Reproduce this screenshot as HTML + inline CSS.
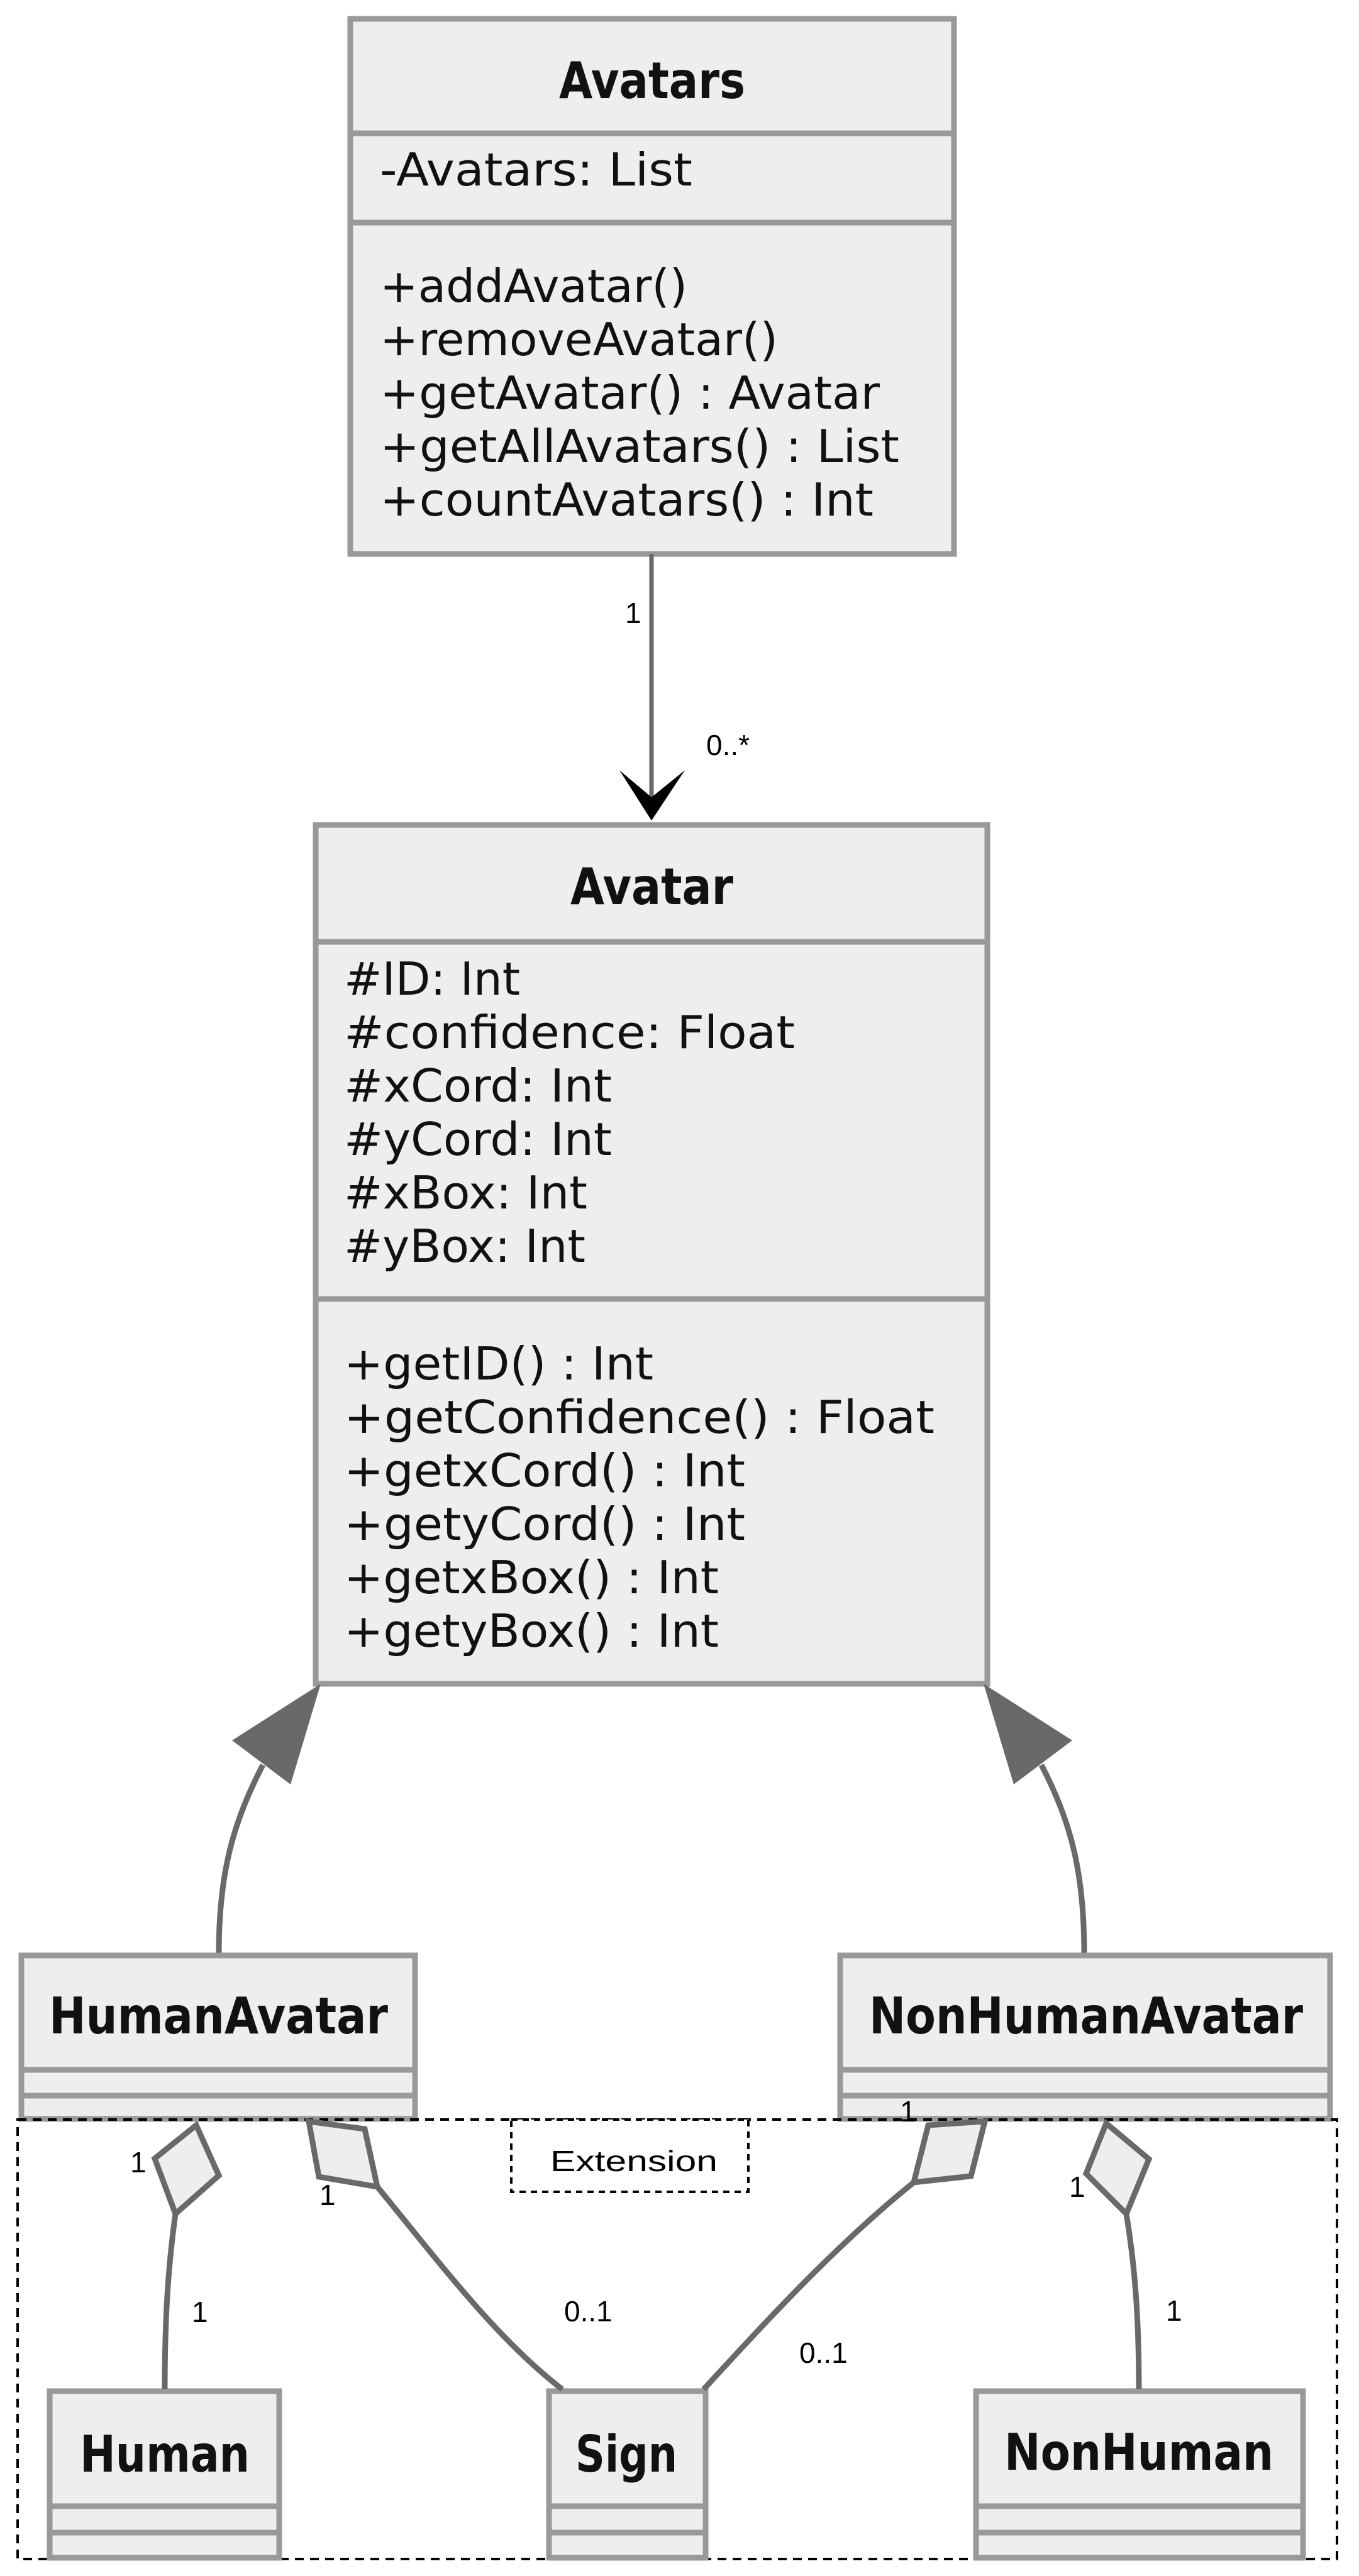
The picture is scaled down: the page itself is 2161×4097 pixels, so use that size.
<!DOCTYPE html>
<html><head><meta charset="utf-8"><style>
html,body{margin:0;padding:0;background:#fff;}
svg{display:block;}
text{font-family:"DejaVu Sans","Liberation Sans",sans-serif;fill:#111;}
.t{font-weight:bold;font-size:80px;}
.b{font-size:72px;}
.l{font-family:"Liberation Sans",sans-serif;font-size:46px;fill:#000;}
.box{fill:#eeeeee;stroke:#999;stroke-width:9;}
.dv{stroke:#999;stroke-width:9;}
.c{fill:none;stroke:#696969;stroke-width:9;}
.d{fill:#eeeeee;stroke:#696969;stroke-width:9;stroke-linejoin:miter;}
</style></head><body>
<svg width="2161" height="4097" viewBox="0 0 2161 4097" xmlns="http://www.w3.org/2000/svg">
<!-- Avatars -->
<rect class="box" x="557" y="30" width="960" height="851"/>
<line class="dv" x1="557" y1="212" x2="1517" y2="212"/>
<line class="dv" x1="557" y1="354" x2="1517" y2="354"/>
<text class="t" x="889" y="156" textLength="296" lengthAdjust="spacingAndGlyphs">Avatars</text>
<text class="b" x="604" y="295" textLength="497" lengthAdjust="spacingAndGlyphs">-Avatars: List</text>
<text class="b" x="604" y="480" textLength="489" lengthAdjust="spacingAndGlyphs">+addAvatar()</text>
<text class="b" x="604" y="565" textLength="633" lengthAdjust="spacingAndGlyphs">+removeAvatar()</text>
<text class="b" x="604" y="650" textLength="795" lengthAdjust="spacingAndGlyphs">+getAvatar() : Avatar</text>
<text class="b" x="604" y="735" textLength="826" lengthAdjust="spacingAndGlyphs">+getAllAvatars() : List</text>
<text class="b" x="604" y="820" textLength="785" lengthAdjust="spacingAndGlyphs">+countAvatars() : Int</text>

<!-- association arrow -->
<line x1="1036" y1="881" x2="1036" y2="1290" stroke="#696969" stroke-width="7"/>
<polygon points="985,1225 1036,1305 1089,1225 1036,1268" fill="#000"/>
<text class="l" x="994" y="991">1</text>
<text class="l" x="1123" y="1201">0..*</text>

<!-- Avatar -->
<rect class="box" x="502" y="1312" width="1068" height="1366"/>
<line class="dv" x1="502" y1="1498" x2="1570" y2="1498"/>
<line class="dv" x1="502" y1="2066" x2="1570" y2="2066"/>
<text class="t" x="907" y="1438" textLength="259" lengthAdjust="spacingAndGlyphs">Avatar</text>
<text class="b" x="547" y="1582" textLength="280" lengthAdjust="spacingAndGlyphs">#ID: Int</text>
<text class="b" x="547" y="1667" textLength="717" lengthAdjust="spacingAndGlyphs">#confidence: Float</text>
<text class="b" x="547" y="1752" textLength="426" lengthAdjust="spacingAndGlyphs">#xCord: Int</text>
<text class="b" x="547" y="1837" textLength="426" lengthAdjust="spacingAndGlyphs">#yCord: Int</text>
<text class="b" x="547" y="1922" textLength="387" lengthAdjust="spacingAndGlyphs">#xBox: Int</text>
<text class="b" x="547" y="2007" textLength="384" lengthAdjust="spacingAndGlyphs">#yBox: Int</text>
<text class="b" x="547" y="2194" textLength="492" lengthAdjust="spacingAndGlyphs">+getID() : Int</text>
<text class="b" x="547" y="2279" textLength="939" lengthAdjust="spacingAndGlyphs">+getConfidence() : Float</text>
<text class="b" x="547" y="2364" textLength="638" lengthAdjust="spacingAndGlyphs">+getxCord() : Int</text>
<text class="b" x="547" y="2449" textLength="638" lengthAdjust="spacingAndGlyphs">+getyCord() : Int</text>
<text class="b" x="547" y="2534" textLength="596" lengthAdjust="spacingAndGlyphs">+getxBox() : Int</text>
<text class="b" x="547" y="2619" textLength="596" lengthAdjust="spacingAndGlyphs">+getyBox() : Int</text>

<!-- inheritance -->
<path class="c" d="M418 2807 C370 2900,348 2980,348 3107"/>
<polygon points="510,2678 369,2768 462,2838" fill="#696969"/>
<path class="c" d="M1656 2807 C1704 2900,1724 2980,1724 3107"/>
<polygon points="1564,2678 1705,2768 1612,2838" fill="#696969"/>

<!-- HumanAvatar -->
<rect class="box" x="34" y="3110" width="626" height="260"/>
<line class="dv" x1="34" y1="3292" x2="660" y2="3292"/>
<line class="dv" x1="34" y1="3333" x2="660" y2="3333"/>
<text class="t" x="78" y="3234" textLength="539" lengthAdjust="spacingAndGlyphs">HumanAvatar</text>
<!-- NonHumanAvatar -->
<rect class="box" x="1336" y="3110" width="779" height="260"/>
<line class="dv" x1="1336" y1="3292" x2="2115" y2="3292"/>
<line class="dv" x1="1336" y1="3333" x2="2115" y2="3333"/>
<text class="t" x="1382" y="3234" textLength="690" lengthAdjust="spacingAndGlyphs">NonHumanAvatar</text>

<!-- Extension package -->
<rect x="28" y="3371" width="2098" height="699" fill="none" stroke="#000" stroke-width="4" stroke-dasharray="14,10"/>
<rect x="813" y="3371" width="377" height="115" fill="#fff" stroke="#000" stroke-width="4" stroke-dasharray="10,8"/>
<text class="l" x="875" y="3453" textLength="266" lengthAdjust="spacingAndGlyphs">Extension</text>

<!-- lower boxes -->
<rect class="box" x="79" y="3803" width="365" height="265"/>
<line class="dv" x1="79" y1="3986" x2="444" y2="3986"/>
<line class="dv" x1="79" y1="4028" x2="444" y2="4028"/>
<text class="t" x="127" y="3931" textLength="270" lengthAdjust="spacingAndGlyphs">Human</text>

<rect class="box" x="873" y="3803" width="249" height="265"/>
<line class="dv" x1="873" y1="3986" x2="1122" y2="3986"/>
<line class="dv" x1="873" y1="4028" x2="1122" y2="4028"/>
<text class="t" x="915" y="3931" textLength="162" lengthAdjust="spacingAndGlyphs">Sign</text>

<rect class="box" x="1552" y="3803" width="520" height="265"/>
<line class="dv" x1="1552" y1="3986" x2="2072" y2="3986"/>
<line class="dv" x1="1552" y1="4028" x2="2072" y2="4028"/>
<text class="t" x="1597" y="3928" textLength="428" lengthAdjust="spacingAndGlyphs">NonHuman</text>

<!-- aggregations -->
<path class="c" d="M279 3521 C268 3600,262 3680,262 3800"/>
<polygon class="d" points="312,3380 348,3460 279,3521 246,3433"/>
<path class="c" d="M600 3478 C700 3600,790 3720,894 3800"/>
<polygon class="d" points="491,3374 580,3386 600,3478 507,3462"/>
<path class="c" d="M1453 3471 C1330 3570,1220 3690,1119 3800"/>
<polygon class="d" points="1566,3374 1476,3380 1453,3471 1544,3461"/>
<path class="c" d="M1791 3521 C1804 3600,1811 3680,1811 3800"/>
<polygon class="d" points="1759,3377 1827,3434 1791,3521 1727,3457"/>

<text class="l" x="207" y="3455">1</text>
<text class="l" x="305" y="3693">1</text>
<text class="l" x="508" y="3507">1</text>
<text class="l" x="897" y="3692">0..1</text>
<text class="l" x="1431" y="3374">1</text>
<text class="l" x="1271" y="3758">0..1</text>
<text class="l" x="1700" y="3494">1</text>
<text class="l" x="1854" y="3691">1</text>
</svg>
</body></html>
